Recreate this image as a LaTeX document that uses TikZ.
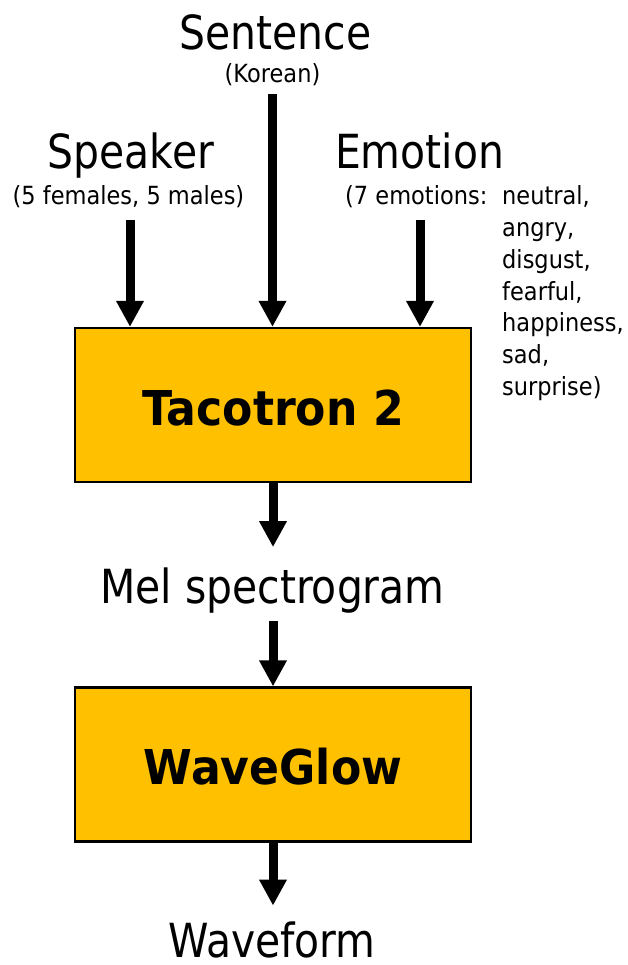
\documentclass[tikz,border=0pt]{standalone}
\usepackage{fontspec}
\setmainfont[FakeStretch=0.87]{DejaVu Sans}
\newfontfamily\smallf[FakeStretch=0.9]{DejaVu Sans}
\newfontfamily\boldf[FakeStretch=0.92]{DejaVu Sans}
\usetikzlibrary{arrows.meta}
\definecolor{boxfill}{HTML}{FFC000}
\begin{document}
\begin{tikzpicture}[x=1pt,y=-1pt,
  big/.style={anchor=base,inner sep=0pt,font=\fontsize{47}{56}\selectfont},
  small/.style={anchor=base,inner sep=0pt,font=\smallf\fontsize{25}{30}\selectfont},
  blk/.style={draw=black,line width=2.2pt,fill=boxfill,minimum width=396pt,minimum height=154pt,inner sep=0pt,text height=40pt,text depth=0pt,font=\boldf\bfseries\fontsize{48}{56}\selectfont},
  arr/.style={line width=9pt,-{Triangle[width=26pt,length=26pt]}}]
\useasboundingbox (0,0) rectangle (628,965);
\node[big] (sent) at (275.5,50) {Sentence};
\node[small] (kor) at (272.5,83) {(Korean)};
\node[big] (spk) at (131,169) {Speaker};
\node[small] (spkd) at (128.5,205) {(5 females, 5 males)};
\node[big] (emo) at (419.5,169) {Emotion};
\node[small,anchor=base west] (emod) at (345,205) {(7 emotions:};
\foreach \w [count=\i from 0] in {{neutral,},{angry,},{disgust,},{fearful,},{happiness,},{sad,},{surprise)}}
  \node[small,anchor=base west] (l\i) at (502,205+31.7*\i) {\w};
\node[blk] (taco) at (273,405) {Tacotron 2};
\node[big] (mel) at (272.5,603) {Mel spectrogram};
\node[blk] (wg) at (273,764.5) {WaveGlow};
\node[big] (wave) at (272,957) {Waveform};
\coordinate (sa) at (130,220);
\coordinate (ea) at (420,220);
\draw[arr] (sa) -- (sa |- taco.north);
\draw[arr] (ea) -- (ea |- taco.north);
\draw[arr] ([yshift=-8pt]kor.south) -- (kor.south |- taco.north);
\draw[arr] (taco.south) -- ++(0,64);
\draw[arr] ([yshift=-8pt]mel.south -| wg.north) -- (wg.north);
\draw[arr] (wg.south) -- ++(0,63);
\end{tikzpicture}
\end{document}
